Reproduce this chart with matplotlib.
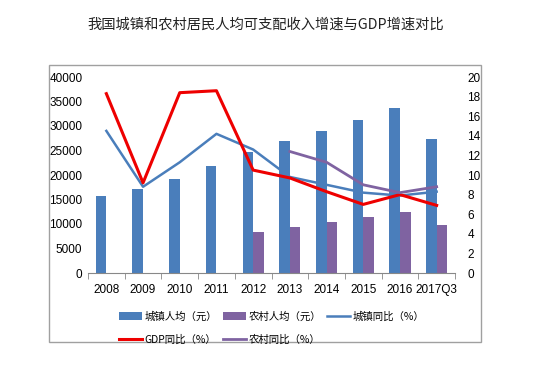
import numpy as np
from matplotlib import pyplot as plt
from matplotlib.patches import Rectangle

plt.rcParams['font.family'] = ['Liberation Sans Narrow', 'Liberation Sans', 'DejaVu Sans']

years = ['2008', '2009', '2010', '2011', '2012', '2013', '2014', '2015', '2016', '2017Q3']
city_income = [15800, 17200, 19100, 21800, 24600, 27000, 28900, 31200, 33600, 27400]
rural_income = [np.nan, np.nan, np.nan, np.nan, 8400, 9400, 10500, 11400, 12400, 9800]
city_yoy = [14.5, 8.8, 11.3, 14.2, 12.6, 9.8, 9.0, 8.2, 7.9, 8.3]
gdp_yoy = [18.3, 9.2, 18.4, 18.6, 10.5, 9.7, 8.3, 7.0, 8.0, 6.9]
rural_yoy = [np.nan, np.nan, np.nan, np.nan, np.nan, 12.4, 11.3, 9.0, 8.2, 8.8]

cjk = ['Noto Sans CJK SC', 'DejaVu Sans']
c_blue = '#4a7ebb'
c_purple = '#7f63a1'
c_red = '#ee0000'

fig = plt.figure(figsize=(5.54, 3.71), dpi=100)
fig.add_artist(Rectangle((49 / 554, 1 - 342 / 371), 432 / 554, 277 / 371,
                         transform=fig.transFigure, fill=False,
                         edgecolor='#a0a0a0', lw=1.0))
fig.text(266 / 554, 1 - 25 / 371, '我国城镇和农村居民人均可支配收入增速与GDP增速对比',
         ha='center', va='center', fontsize=10.3, family=cjk, color='#222222')

ax = fig.add_axes([88 / 554, 1 - 273 / 371, 367 / 554, 196 / 371])
x = np.arange(len(years))
w = 0.29
b1 = ax.bar(x - w / 2, city_income, w, color=c_blue, label='城镇人均（元）')
b2 = ax.bar(x + w / 2, rural_income, w, color=c_purple, label='农村人均（元）')
ax.set_xlim(-0.5, len(years) - 0.5)
ax.set_ylim(0, 40000)
ax.set_yticks(range(0, 40001, 5000))
ax.set_xticks(x)
ax.set_xticklabels(years)
ax.set_xticks(np.arange(-0.5, len(years), 1), minor=True)
ax.tick_params(axis='x', which='major', length=0, pad=8, labelsize=8.5)
ax.tick_params(axis='x', which='minor', length=4, color='#888888')
ax.tick_params(axis='y', length=0, labelsize=8.5, pad=4)
for s in ['top', 'left', 'right']:
    ax.spines[s].set_visible(False)
ax.spines['bottom'].set_color('#888888')

ax2 = ax.twinx()
l1, = ax2.plot(x, city_yoy, color=c_blue, lw=1.8, label='城镇同比（%）')
l2, = ax2.plot(x, gdp_yoy, color=c_red, lw=2.2, label='GDP同比（%）')
l3, = ax2.plot(x, rural_yoy, color=c_purple, lw=2.0, label='农村同比（%）')
ax2.set_ylim(0, 20)
ax2.set_yticks(range(0, 21, 2))
ax2.tick_params(axis='y', length=0, labelsize=8.5, pad=9)
for s in ['top', 'left', 'right', 'bottom']:
    ax2.spines[s].set_visible(False)

# legend order so the rows read like the original (matplotlib fills by column)
handles = [b1, l2, b2, l3, l1]
labels = [h.get_label() for h in handles]
fig.legend(handles, labels, ncol=3, loc='upper left',
           bbox_to_anchor=(110 / 554, 1 - 302 / 371), frameon=False,
           prop={'family': cjk, 'size': 7.5}, handlelength=2.2,
           handletextpad=0.2, columnspacing=0.6, labelspacing=1.2)

fig.savefig('out.png', dpi=100)
